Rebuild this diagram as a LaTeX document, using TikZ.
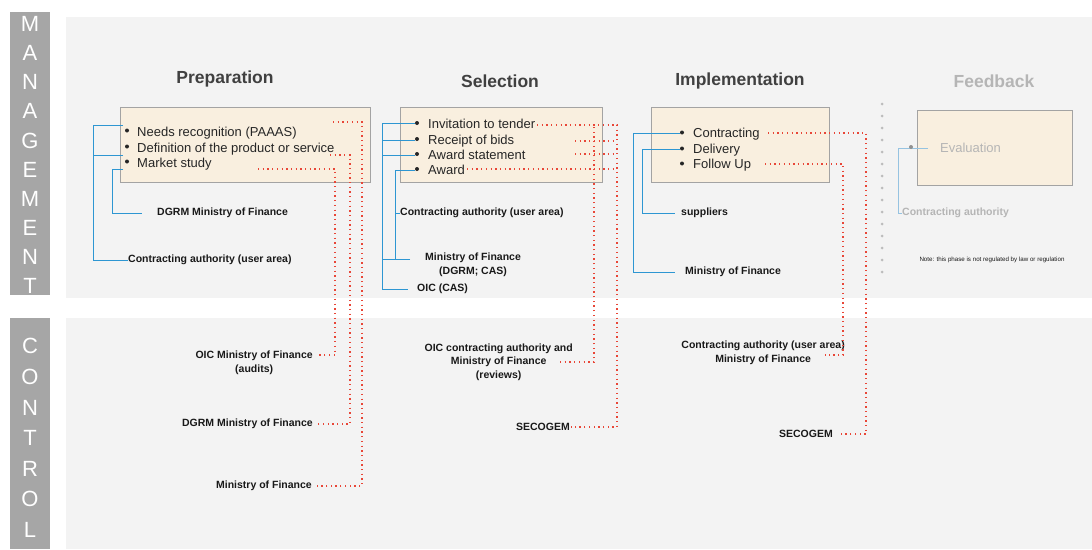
\documentclass[tikz,border=0pt]{standalone}
\usepackage{fontspec}
\setmainfont{Liberation Sans}
\usetikzlibrary{calc}
\definecolor{barGray}{HTML}{A6A6A6}
\definecolor{panelGray}{HTML}{F3F3F3}
\definecolor{boxFill}{HTML}{F9EFDF}
\definecolor{boxLine}{HTML}{A3A3A3}
\definecolor{mgmtBlue}{RGB}{45,150,210}
\definecolor{ctrlRed}{RGB}{232,70,55}
\definecolor{fbGray}{HTML}{B5B5B5}
\definecolor{fbBlue}{RGB}{150,195,225}
\definecolor{darkText}{HTML}{404040}
\tikzset{%
    barletters/.style={inner sep=0pt, align=center, text=white,
        font=\fontsize{22}{#1}\selectfont},
    stagebox/.style={draw=boxLine, fill=boxFill, line width=0.9pt},
    stagetitle/.style={inner sep=0pt, text=darkText,
        font=\bfseries\fontsize{17.5}{20}\selectfont},
    item/.style={anchor=base west, inner sep=0pt, text=black!85,
        font=\fontsize{13}{15}\selectfont},
    bul/.style={fill=black!85},
    lbl/.style={inner sep=0pt, align=center, text=black!90,
        font=\bfseries\fontsize{10.5}{13.5}\selectfont},
    mgmt/.style={draw=mgmtBlue, line width=1pt},
    ctrl/.style={draw=ctrlRed, line width=1.3pt, dash pattern=on 1.3pt off 3.4pt},
    fbline/.style={draw=fbBlue, line width=1pt},
    sepdots/.style={draw=fbGray!90, line width=3pt, line cap=round, dash pattern=on 0pt off 12pt}
}
\begin{document}
\begin{tikzpicture}[x=1pt,y=-1pt]
    \useasboundingbox (0,0) rectangle (1092,549);
    % panels and side bars
    \fill[panelGray] (66,17) rectangle (1092,298);
    \fill[panelGray] (66,318) rectangle (1092,549);
    \fill[barGray] (10,12) rectangle (50,295);
    \fill[barGray] (10,318) rectangle (50,549);
    \node[barletters=29.1] (mgmtlbl) at (30,155) {M\\A\\N\\A\\G\\E\\M\\E\\N\\T};
    \node[barletters=30.6] (ctrllbl) at (30,438) {C\\O\\N\\T\\R\\O\\L};

    % stage titles
    \node[stagetitle] (prep) at (225,79) {Preparation};
    \node[stagetitle] (sel) at (500,81) {Selection};
    \node[stagetitle] (impl) at (740,81) {Implementation};
    \node[stagetitle, text=fbGray] (feed) at (994,81) {Feedback};

    % stage boxes
    \draw[stagebox] (120,107) rectangle (370,182);
    \draw[stagebox] (400,107) rectangle (602,182);
    \draw[stagebox] (651,107) rectangle (829,182);
    \draw[stagebox] (917,110) rectangle (1072,185);

    % items
    \node[item] (prepa) at (137,136) {Needs recognition (PAAAS)};
    \node[item] (prepb) at (137,152) {Definition of the product or service};
    \node[item] (prepc) at (137,167) {Market study};
    \node[item] (sela) at (428,128) {Invitation to tender};
    \node[item] (selb) at (428,144) {Receipt of bids};
    \node[item] (selc) at (428,159) {Award statement};
    \node[item] (seld) at (428,174) {Award};
    \node[item] (impla) at (693,137) {Contracting};
    \node[item] (implb) at (693,153) {Delivery};
    \node[item] (implc) at (693,168) {Follow Up};
    \node[item, text=fbGray, anchor=west] (eval) at (940,148) {Evaluation};

    % bullets
    \fill[bul] ($(prepa.base west)+(-10,-5.5)$) circle (2pt);
    \fill[bul] ($(prepb.base west)+(-10,-5.5)$) circle (2pt);
    \fill[bul] ($(prepc.base west)+(-10,-5.5)$) circle (2pt);
    \fill[bul] ($(sela.base west)+(-11,-5)$) circle (2pt);
    \fill[bul] ($(selb.base west)+(-11,-5)$) circle (2pt);
    \fill[bul] ($(selc.base west)+(-11,-5)$) circle (2pt);
    \fill[bul] ($(seld.base west)+(-11,-5)$) circle (2pt);
    \fill[bul] ($(impla.base west)+(-11,-4.5)$) circle (2pt);
    \fill[bul] ($(implb.base west)+(-11,-4.5)$) circle (2pt);
    \fill[bul] ($(implc.base west)+(-11,-4.5)$) circle (2pt);

    % management labels
    \node[lbl, anchor=west] (cau) at (128,260) {Contracting authority (user area)};
    \node[lbl, anchor=west] (dgrm) at (157,213) {DGRM Ministry of Finance};
    \node[lbl, anchor=west] (cas) at (400,213) {Contracting authority (user area)};
    \node[lbl, anchor=west] (mfd) at (425,265) {Ministry of Finance\\(DGRM; CAS)};
    \node[lbl, anchor=west] (oic) at (417,289) {OIC (CAS)};
    \node[lbl, anchor=west] (sup) at (681,213) {suppliers};
    \node[lbl, anchor=west] (mof) at (685,272) {Ministry of Finance};
    \node[lbl, anchor=west, text=fbGray] (cag) at (902,213) {Contracting authority};
    \node[inner sep=0pt, text=black!90, font=\fontsize{6.2}{7}\selectfont] (note) at (992,260)
        {Note: this phase is not regulated by law or regulation};

    % control labels
    \node[lbl, anchor=north east] (oicm) at (313,351) {OIC Ministry of Finance\\(audits)};
    \node[lbl, anchor=east] (dgrmc) at (313,424) {DGRM Ministry of Finance};
    \node[lbl, anchor=east] (mofc) at (312,486) {Ministry of Finance};
    \node[lbl, anchor=east] (oicr) at (573,362) {OIC contracting authority and\\Ministry of Finance\\(reviews)};
    \node[lbl, anchor=east] (sec1) at (570,427) {SECOGEM};
    \node[lbl, anchor=east] (cauc) at (845,353) {Contracting authority (user area)\\Ministry of Finance};
    \node[lbl, anchor=east] (sec2) at (833,434) {SECOGEM};

    % attach points
    \coordinate (pa) at (123,125);
    \coordinate (pb) at (123,155);
    \coordinate (pc) at (123,169);
    \coordinate (sa) at (415,123);
    \coordinate (sb) at (415,140);
    \coordinate (sc) at (415,155);
    \coordinate (sd) at (415,170);
    \coordinate (ia) at (680,133);
    \coordinate (ib) at (680,149);
    \coordinate (r1) at (333,122);
    \coordinate (r2) at (330,155);
    \coordinate (r3) at (258,169);
    \coordinate (s1) at (537,125);
    \coordinate (s1v) at (594,125);
    \coordinate (s2) at (575,141);
    \coordinate (s3) at (575,154);
    \coordinate (s4) at (467,169);
    \coordinate (i1) at (768,133);
    \coordinate (i2) at (765,164);
    \coordinate (sep1) at (882,104);
    \coordinate (sep2) at (882,273);

    % management connectors
    \draw[mgmt] (pa) -- ++(-30,0) |- (cau.west);
    \draw[mgmt] (pb) -- ++(-30,0);
    \draw[mgmt] (pc) -- ++(-11,0) |- ($(dgrm.west)+(-15,0)$);
    \draw[mgmt] (sa) -- ++(-33,0) |- ($(oic.west)+(-9,0)$);
    \draw[mgmt] (sb) -- ++(-33,0);
    \draw[mgmt] (sc) -- ++(-33,0);
    \draw[mgmt] (sd) -- ++(-20,0) coordinate (sdk) |- ($(mfd.west)+(-15,-6)$) coordinate (mfdp);
    \draw[mgmt] (mfdp) -- ++(-28,0);
    \draw[mgmt] (sdk |- cas.west) -- (cas.west);
    \draw[mgmt] (ia) -- ++(-47,0) |- ($(mof.west)+(-10,0)$);
    \draw[mgmt] (ib) -- ++(-38,0) |- ($(sup.west)+(-6,0)$);
    \draw[fbline] ($(eval.west)+(-12,0)$) -- ++(-30,0) |- (cag.west);
    \fill[fbGray!80!black] (911,147) circle (2pt);

    % control connectors
    \draw[ctrl] (r1) -| ($(mofc.east)+(50,0)$) -- ($(mofc.east)+(2,0)$);
    \draw[ctrl] (r2) -| ($(dgrmc.east)+(37,0)$) -- ($(dgrmc.east)+(5,0)$);
    \draw[ctrl] (r3) -| ($(oicm.north east)+(22,4)$) -- ($(oicm.north east)+(4,4)$);
    \draw[ctrl] (s1) -| ($(sec1.east)+(47,0)$) -- ($(sec1.east)+(1,0)$);
    \draw[ctrl] ($(oicr.east)+(-13,0)$) -| (s1v);
    \draw[ctrl] (s2) -- ++(42,0);
    \draw[ctrl] (s3) -- ++(42,0);
    \draw[ctrl] (s4) -- ++(150,0);
    \draw[ctrl] (i1) -| ($(sec2.east)+(33,0)$) -- ($(sec2.east)+(5,0)$);
    \draw[ctrl] (i2) -| ($(cauc.east)+(-2,2)$) -- ++(-18,0);

    % feedback separator
    \draw[sepdots] (sep1) -- (sep2);
\end{tikzpicture}
\end{document}
